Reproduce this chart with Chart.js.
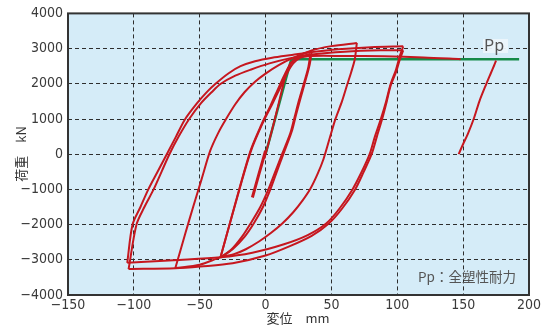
<!DOCTYPE html>
<html>
<head>
<meta charset="utf-8">
<script src="https://cdn.jsdelivr.net/npm/chart.js@4/dist/chart.umd.min.js"></script>
<style>
  html, body { margin: 0; padding: 0; background: #fff; }
  #wrap { width: 553px; height: 327px; position: relative; }
</style>
</head>
<body>
<div id="wrap"><canvas id="hys"></canvas></div>
<script>
// 荷重-変位 履歴曲線 (x: 変位 mm, y: 荷重 kN)

// 軸
const xTicks = [-150, -100, -50, 0, 50, 100, 150, 200];
const yTicks = [-4000, -3000, -2000, -1000, 0, 1000, 2000, 3000, 4000];

// 初期載荷 (±10 の小サイクル + 単調載荷)
const smallCycle = [[-10, -1230], [-5, -560], [0, 100]];
const initLoad = [[-1, -130], [5, 700], [10, 1450], [15, 2200], [19, 2580], [25, 2730], [35, 2790],
  [60, 2790], [90, 2780], [120, 2750], [148, 2700]];

// ±35 サイクル
const c35Up1 = [[-34.2, -2930], [-23, -1400], [-11.4, 100], [-3, 850], [4, 1400], [10, 1900], [15, 2300], [20, 2620], [27, 2830], [35, 2920]];
const c35Up2 = [[-34.2, -2930], [-23, -1420], [-11.4, 60], [-2, 900], [5, 1420], [11, 1880], [16, 2280], [21, 2580], [27, 2760], [34, 2850]];
const c35Down1 = [[35, 2920], [33.5, 2550], [30, 2050], [26.6, 1600], [23, 1100], [20, 660], [16.5, 300], [13.5, 0],
  [8.5, -500], [3.8, -983], [-2, -1500], [-9, -1970], [-16, -2350], [-25, -2700], [-34.2, -2930]];
const c35Down2 = [[34, 2850], [32.5, 2480], [29, 2000], [25.5, 1550], [22, 1050], [19, 620], [15.5, 280], [12.5, 0],
  [7.3, -500], [2.3, -983], [-4, -1500], [-11.4, -1970], [-18, -2350], [-26, -2710], [-34.2, -2930]];

// ±70 サイクル
const c70Up = [[-68.5, -3235], [-61, -2260], [-55, -1500], [-48.5, -700], [-42, 100], [-36, 600], [-30, 1000],
  [-23, 1420], [-16, 1760], [-8, 2060], [0, 2290], [10, 2530], [20, 2720], [35, 2950], [50, 3070], [69.3, 3160]];
const c70Down = [[69.3, 3160], [67.7, 2690], [65, 2330], [62, 1980], [58, 1500], [53, 995], [48.5, 430], [44, -135],
  [39.5, -560], [34, -983], [28, -1320], [21, -1650], [12.7, -1970], [4, -2240], [-5, -2480], [-15, -2700],
  [-24, -2840], [-34.2, -2930], [-50, -3140], [-68.5, -3235]];

// ±105 サイクル (2回)
const c105Up1 = [[-105, -3085], [-101, -2000], [-95, -1500], [-89, -1000], [-82, -500], [-75, 0], [-68, 500], [-61, 1000],
  [-52, 1450], [-45, 1750], [-38, 2000], [-28, 2300], [-19, 2500], [-8, 2640], [5, 2740], [20, 2820], [35, 2900],
  [55, 2980], [80, 3040], [104.5, 3065]];
const c105Up2 = [[-104, -3263], [-98, -2000], [-92, -1500], [-85, -1000], [-79, -500], [-73, 0], [-66, 500], [-58, 1000],
  [-49, 1450], [-41, 1760], [-34, 2000], [-23, 2230], [-11.4, 2400], [3, 2580], [19, 2730], [35, 2830], [60, 2910],
  [87.5, 2950], [104.5, 2950]];
const c105Down1 = [[104.5, 3065], [102, 2800], [99, 2400], [95, 2000], [91.5, 1500], [87.5, 1000], [83, 500], [79, 0],
  [73, -500], [66, -1000], [56, -1550], [46, -1970], [32, -2300], [14, -2560], [-10, -2800], [-34.2, -2930],
  [-70, -3010], [-105, -3085]];
const c105Down2 = [[104.5, 2950], [102, 2700], [99, 2330], [95, 1950], [92, 1500], [88.5, 1000], [84.5, 500], [80.5, 0],
  [74.5, -500], [68, -1000], [58, -1550], [48, -1970], [35, -2320], [18, -2620], [0, -2880], [-25, -3100],
  [-49.5, -3190], [-68.5, -3240], [-104, -3263]];

// 最終載荷
const finalLoad = [[146.6, 0], [150, 290], [153.5, 570], [158, 1000], [162.4, 1510], [167.4, 1980], [171, 2300],
  [173.5, 2520], [175, 2660]];

// 全塑性耐力 Pp (バイリニア)
const ppLine = [[0, 0], [19.5, 2700], [192.5, 2700]];

const RED = '#c6171f';
const GREEN = '#168a48';

const redBranches = [smallCycle, initLoad, c35Up1, c35Up2, c35Down1, c35Down2, c70Up, c70Down,
  c105Up1, c105Up2, c105Down1, c105Down2, finalLoad];

const toPts = arr => arr.map(p => ({ x: p[0], y: p[1] }));

const datasets = redBranches.map(b => ({
  data: toPts(b),
  borderColor: RED,
  borderWidth: b === smallCycle ? 3 : 2,
  tension: 0.3
}));
datasets.push({ data: toPts(ppLine), borderColor: GREEN, borderWidth: 2.5, tension: 0 });

const fmt = v => (v < 0 ? '\u2212' + Math.abs(v) : String(v));
const tickFont = { family: "'Liberation Sans Narrow', 'DejaVu Sans Condensed', sans-serif", size: 14 };
const jp = "'Noto Sans CJK JP', sans-serif";

const plotDeco = {
  id: 'plotDeco',
  beforeDraw(chart) {
    const { ctx, chartArea: a } = chart;
    ctx.save();
    ctx.fillStyle = '#d5ecf8';
    ctx.fillRect(a.left, a.top, a.right - a.left, a.bottom - a.top);
    ctx.restore();
  },
  afterDraw(chart) {
    const { ctx, chartArea: a } = chart;
    ctx.save();
    ctx.strokeStyle = '#333';
    ctx.lineWidth = 2;
    ctx.strokeRect(a.left, a.top, a.right - a.left, a.bottom - a.top);

    // Pp ラベル
    ctx.fillStyle = 'rgba(236,246,251,0.95)';
    ctx.fillRect(483, 39, 25, 14);
    ctx.fillStyle = '#555';
    ctx.font = '16px ' + jp;
    ctx.textAlign = 'left';
    ctx.textBaseline = 'alphabetic';
    ctx.fillText('Pp', 484, 51);

    // 注記
    ctx.font = '13.5px ' + jp;
    ctx.textBaseline = 'middle';
    ctx.fillText('Pp：全塑性耐力', 418, 277);

    // 軸タイトル
    ctx.fillStyle = '#333';
    ctx.font = '13px ' + jp;
    ctx.textAlign = 'center';
    ctx.fillText('変位　mm', 298, 318);
    ctx.translate(21, 154);
    ctx.rotate(-Math.PI / 2);
    ctx.fillText('荷重　kN', 0, 0);
    ctx.restore();
  }
};

new Chart(document.getElementById('hys'), {
  type: 'scatter',
  data: { datasets: datasets },
  options: {
    responsive: true,
    maintainAspectRatio: false,
    animation: false,
    showLine: true,
    elements: { point: { radius: 0, hoverRadius: 0 } },
    layout: { padding: { left: 0, top: 12, right: 24, bottom: 0 } },
    plugins: { legend: { display: false }, tooltip: { enabled: false } },
    scales: {
      x: {
        type: 'linear',
        min: -150,
        max: 200,
        afterBuildTicks: s => { s.ticks = xTicks.map(v => ({ value: v })); },
        afterFit: s => { s.height = 32; },
        ticks: { font: tickFont, color: '#3a3a3a', padding: 2, maxRotation: 0, callback: fmt },
        grid: { color: '#2e2e2e', lineWidth: 1, drawTicks: false },
        border: { display: false, dash: [4, 3] }
      },
      y: {
        type: 'linear',
        min: -4000,
        max: 4000,
        afterBuildTicks: s => { s.ticks = yTicks.map(v => ({ value: v })); },
        afterFit: s => { s.width = 68; },
        ticks: { font: tickFont, color: '#3a3a3a', padding: 5, callback: fmt },
        grid: { color: '#2e2e2e', lineWidth: 1, drawTicks: false },
        border: { display: false, dash: [4, 3] }
      }
    }
  },
  plugins: [plotDeco]
});
</script>
</body>
</html>
